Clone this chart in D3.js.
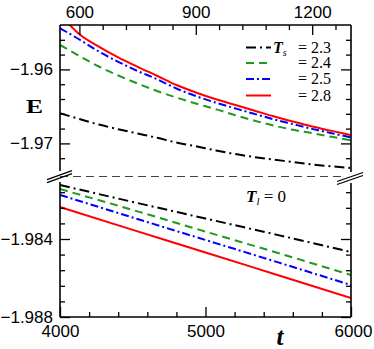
<!DOCTYPE html>
<html><head><meta charset="utf-8">
<script src="https://cdn.jsdelivr.net/npm/d3@7"></script>
<style>body{margin:0;background:#fff}</style>
</head><body><svg id="c" width="374" height="349"></svg>
<script>
// ---------- data ----------
const seriesLabels = ["2.3", "2.4", "2.5", "2.8"];
const tEarly    = [550, 600, 650, 700, 750, 800, 850, 900, 950, 1000, 1050, 1100, 1150, 1200, 1250, 1300];
const tEarlyRed = [571, 600, 650, 700, 750, 800, 850, 900, 950, 1000, 1050, 1100, 1150, 1200, 1250, 1300];
const E_early_23 = [-1.96593, -1.96670, -1.96745, -1.96808, -1.96866, -1.96924, -1.96988, -1.97039, -1.97093, -1.97143, -1.97184, -1.97219, -1.97251, -1.97285, -1.97310, -1.97332];
const E_early_24 = [-1.95670, -1.95819, -1.95961, -1.96082, -1.96191, -1.96292, -1.96380, -1.96461, -1.96535, -1.96616, -1.96691, -1.96758, -1.96816, -1.96862, -1.96911, -1.96957];
const E_early_25 = [-1.95445, -1.95596, -1.95759, -1.95897, -1.96022, -1.96132, -1.96258, -1.96360, -1.96447, -1.96524, -1.96600, -1.96673, -1.96739, -1.96804, -1.96862, -1.96920];
const E_early_28 = [-1.95377, -1.95526, -1.95691, -1.95837, -1.95965, -1.96086, -1.96211, -1.96312, -1.96400, -1.96477, -1.96555, -1.96634, -1.96705, -1.96772, -1.96831, -1.96889];
const tLate = [4000, 4500, 5000, 5500, 6000];
const E_late_23 = [-1.98123, -1.98210, -1.98295, -1.98380, -1.98467];
const E_late_24 = [-1.98144, -1.98251, -1.98362, -1.98472, -1.98585];
const E_late_25 = [-1.98174, -1.98290, -1.98405, -1.98520, -1.98636];
const E_late_28 = [-1.98236, -1.98353, -1.98469, -1.98586, -1.98703];
const topTickLabels = [600, 900, 1200];
const bottomTickLabels = [4000, 5000, 6000];
const yTopTickLabels = [-1.96, -1.97];
const yBotTickLabels = [-1.984, -1.988];

// ---------- style ----------
const colors = ["#000000", "#1e9a1e", "#0000ff", "#ff0000"];
const dashes = ["10,4,2,4", "8,5", "8,3,2,3", null];
const L = 60, R = 351, T = 25, B = 317;

const svg = d3.select("#c");
const xTop = d3.scaleLinear().domain([550, 1300]).range([L, R]);
const xBot = d3.scaleLinear().domain([4000, 6000]).range([L, R]);
const yTop = d3.scaleLinear().domain([-1.974, -1.954]).range([173, T]);
const yBot = d3.scaleLinear().domain([-1.988, -1.9808]).range([B, 176.6]);

const defs = svg.append("defs");
defs.append("clipPath").attr("id", "cTop").append("rect")
  .attr("x", L).attr("y", T).attr("width", R - L).attr("height", 173 - T);
defs.append("clipPath").attr("id", "cBot").append("rect")
  .attr("x", L).attr("y", 177).attr("width", R - L).attr("height", B - 177);

// curves
const earlyT = [tEarly, tEarly, tEarly, tEarlyRed];
const earlyE = [E_early_23, E_early_24, E_early_25, E_early_28];
const lateE = [E_late_23, E_late_24, E_late_25, E_late_28];
const gTop = svg.append("g").attr("clip-path", "url(#cTop)");
const gBot = svg.append("g").attr("clip-path", "url(#cBot)");
for (let i = 0; i < 4; i++) {
  const d1 = earlyT[i].map((t, j) => [t, earlyE[i][j]]);
  gTop.append("path").datum(d1)
    .attr("d", d3.line().curve(d3.curveMonotoneX).x(d => xTop(d[0])).y(d => yTop(d[1])))
    .attr("fill", "none").attr("stroke", colors[i]).attr("stroke-width", 2)
    .attr("stroke-dasharray", dashes[i]);
  const d2 = tLate.map((t, j) => [t, lateE[i][j]]);
  gBot.append("path").datum(d2)
    .attr("d", d3.line().curve(d3.curveMonotoneX).x(d => xBot(d[0])).y(d => yBot(d[1])))
    .attr("fill", "none").attr("stroke", colors[i]).attr("stroke-width", 2)
    .attr("stroke-dasharray", dashes[i]);
}

// dashed break line
svg.append("line").attr("x1", L).attr("x2", R - 6).attr("y1", 176.5).attr("y2", 176.5)
  .attr("stroke", "#444").attr("stroke-width", 1).attr("stroke-dasharray", "8,5");

// axes
const fontSans = "'Liberation Sans', Arial, sans-serif";
function styleAxis(g) {
  g.select(".domain").remove();
  g.selectAll("line").attr("stroke", "#000").attr("stroke-width", 1.3);
  g.selectAll("text").attr("font-family", fontSans).attr("font-size", 17).attr("fill", "#000");
}
const minorTopX = d3.range(600, 1300, 60).filter(v => !topTickLabels.includes(v));
const minorBotX = d3.range(4200, 6000, 200).filter(v => !bottomTickLabels.includes(v));
const minorTopY = d3.range(0, 9).map(k => +(-1.972 + k * 0.002).toFixed(4)).filter(v => !yTopTickLabels.some(m => Math.abs(m - v) < 1e-6));
const minorBotY = d3.range(1, 9).map(k => +(-1.988 + k * 0.0008).toFixed(4)).filter(v => !yBotTickLabels.some(m => Math.abs(m - v) < 1e-6));

// top axis
svg.append("g").attr("transform", `translate(0,${T})`)
  .call(d3.axisTop(xTop).tickValues(topTickLabels).tickSize(-10).tickPadding(7).tickFormat(d3.format("d"))).call(styleAxis);
svg.append("g").attr("transform", `translate(0,${T})`)
  .call(d3.axisTop(xTop).tickValues(minorTopX).tickSize(-5).tickFormat("")).call(styleAxis);
// bottom axis
const gbx = svg.append("g").attr("transform", `translate(0,${B})`)
  .call(d3.axisBottom(xBot).tickValues(bottomTickLabels).tickSize(-10).tickPadding(8).tickFormat(d3.format("d"))).call(styleAxis);
gbx.selectAll("text").filter(d => d === 6000).attr("dx", 2);
svg.append("g").attr("transform", `translate(0,${B})`)
  .call(d3.axisBottom(xBot).tickValues(minorBotX).tickSize(-5).tickFormat("")).call(styleAxis);
// left axes
svg.append("g").attr("transform", `translate(${L},0)`)
  .call(d3.axisLeft(yTop).tickValues(yTopTickLabels).tickSize(-10).tickPadding(7).tickFormat(d3.format(".2f"))).call(styleAxis);
svg.append("g").attr("transform", `translate(${L},0)`)
  .call(d3.axisLeft(yTop).tickValues(minorTopY).tickSize(-5).tickFormat("")).call(styleAxis);
svg.append("g").attr("transform", `translate(${L},0)`)
  .call(d3.axisLeft(yBot).tickValues(yBotTickLabels).tickSize(-10).tickPadding(7).tickFormat(d3.format(".3f"))).call(styleAxis);
svg.append("g").attr("transform", `translate(${L},0)`)
  .call(d3.axisLeft(yBot).tickValues(minorBotY).tickSize(-5).tickFormat("")).call(styleAxis);
// right axes (ticks only)
svg.append("g").attr("transform", `translate(${R},0)`)
  .call(d3.axisRight(yTop).tickValues(yTopTickLabels).tickSize(-10).tickFormat("")).call(styleAxis);
svg.append("g").attr("transform", `translate(${R},0)`)
  .call(d3.axisRight(yTop).tickValues(minorTopY).tickSize(-5).tickFormat("")).call(styleAxis);
svg.append("g").attr("transform", `translate(${R},0)`)
  .call(d3.axisRight(yBot).tickValues(yBotTickLabels).tickSize(-10).tickFormat("")).call(styleAxis);
svg.append("g").attr("transform", `translate(${R},0)`)
  .call(d3.axisRight(yBot).tickValues(minorBotY).tickSize(-5).tickFormat("")).call(styleAxis);

// frame
const frame = [
  [L, T, R, T], [L, B, R, B],
  [L, T, L, 171], [L, 182, L, B],
  [R, T, R, 172], [R, 183, R, B]
];
svg.selectAll(".frame").data(frame).enter().append("line")
  .attr("x1", d => d[0]).attr("y1", d => d[1]).attr("x2", d => d[2]).attr("y2", d => d[3])
  .attr("stroke", "#000").attr("stroke-width", 1.6);
// break marks
const brk = [
  [47, 179.7, 72, 170.7], [47, 182.7, 72, 173.7],
  [337, 181.5, 363, 172.5], [337, 184.5, 363, 175.5]
];
svg.selectAll(".brk").data(brk).enter().append("line")
  .attr("x1", d => d[0]).attr("y1", d => d[1]).attr("x2", d => d[2]).attr("y2", d => d[3])
  .attr("stroke", "#000").attr("stroke-width", 1.3);

// axis titles
const serif = "'Liberation Serif', 'Times New Roman', serif";
svg.append("text").attr("x", 26).attr("y", 113).attr("font-family", serif).attr("font-size", 19)
  .attr("font-weight", "bold").attr("textLength", 17).attr("lengthAdjust", "spacingAndGlyphs").text("E");
svg.append("text").attr("x", 280).attr("y", 345).attr("text-anchor", "middle").attr("font-family", serif)
  .attr("font-size", 25).attr("font-style", "italic").attr("font-weight", "bold").text("t");

// legend
const legY = [47.5, 63, 79, 95.5];
const leg = svg.append("g");
for (let i = 0; i < 4; i++) {
  leg.append("line").attr("x1", 246).attr("x2", 271).attr("y1", legY[i]).attr("y2", legY[i])
    .attr("stroke", colors[i]).attr("stroke-width", 2).attr("stroke-dasharray", dashes[i]);
  leg.append("text").attr("x", 298).attr("y", legY[i] + 5).attr("font-family", serif)
    .attr("font-size", 16).text("= " + seriesLabels[i]);
}
const ts = leg.append("text").attr("x", 273).attr("y", legY[0] + 5).attr("font-family", serif).attr("font-size", 16);
ts.append("tspan").attr("font-style", "italic").attr("font-weight", "bold").text("T");
ts.append("tspan").attr("font-style", "italic").attr("font-size", 10).attr("dy", 3).text("s");

// annotation
const tl = svg.append("text").attr("x", 246).attr("y", 202).attr("font-family", serif).attr("font-size", 17);
tl.append("tspan").attr("font-style", "italic").attr("font-weight", "bold").text("T");
tl.append("tspan").attr("font-style", "italic").attr("font-size", 11).attr("dy", 3).text("l");
tl.append("tspan").attr("dy", -3).text(" = 0");
</script>
</body></html>
